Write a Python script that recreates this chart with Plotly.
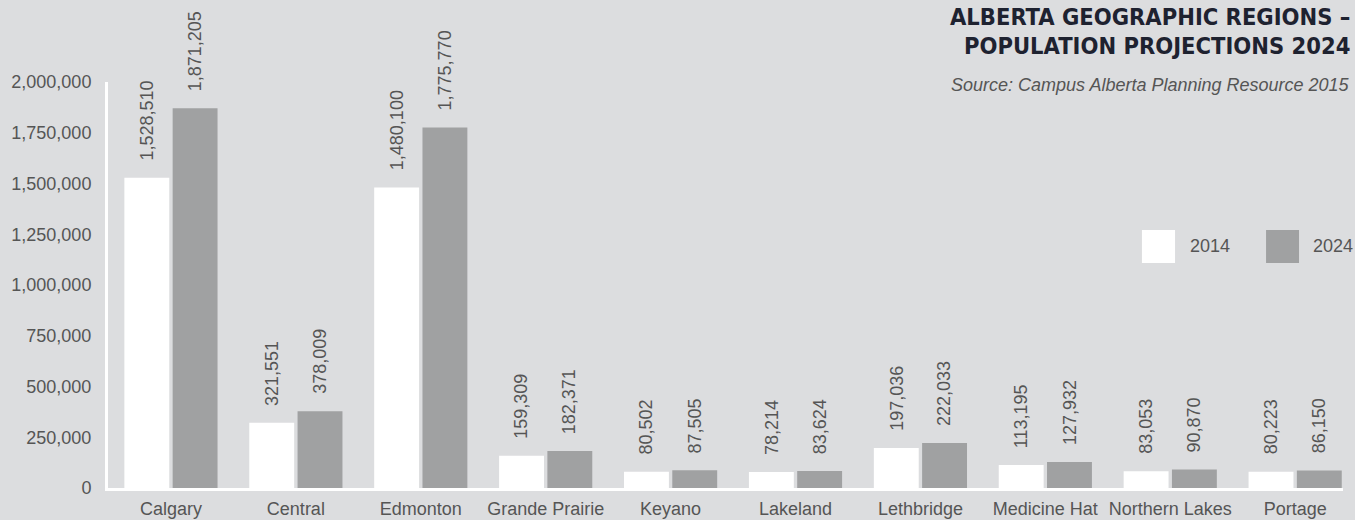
import plotly.graph_objects as go

regions = ["Calgary", "Central", "Edmonton", "Grande Prairie", "Keyano",
           "Lakeland", "Lethbridge", "Medicine Hat", "Northern Lakes", "Portage"]
pop_2014 = [1528510, 321551, 1480100, 159309, 80502, 78214, 197036, 113195, 83053, 80223]
pop_2024 = [1871205, 378009, 1775770, 182371, 87505, 83624, 222033, 127932, 90870, 86150]
y_ticks = [0, 250000, 500000, 750000, 1000000, 1250000, 1500000, 1750000, 2000000]

BG = "#dcdddf"
WHITE = "#ffffff"
GRAY = "#a0a1a2"
TXT = "#555555"
FONT = "Liberation Sans, Arial, sans-serif"
BARGAP = 0.227

fig = go.Figure()
fig.add_trace(go.Bar(x=regions, y=pop_2014, name="2014", marker_color=WHITE,
                     marker_line_width=0, showlegend=False))
fig.add_trace(go.Bar(x=regions, y=pop_2024, name="2024", marker_color=GRAY,
                     marker_line_width=0, showlegend=False))

off = (1 - BARGAP) / 4
ann = []
for i, (a, b) in enumerate(zip(pop_2014, pop_2024)):
    for xv, v in ((i - off, a), (i + off, b)):
        ann.append(dict(x=xv, y=v, xref="x", yref="y", text=f"{v:,}", textangle=-90,
                        showarrow=False, xanchor="center", yanchor="bottom", yshift=15,
                        font=dict(family=FONT, size=18, color=TXT)))

TITLE_FONT = "DejaVu Sans Condensed, Liberation Sans Narrow, Roboto, sans-serif"
ann.append(dict(text="<b>ALBERTA GEOGRAPHIC REGIONS –</b>", xref="paper", yref="paper",
                x=1.0073, y=1.160, xanchor="right", yanchor="middle", showarrow=False,
                font=dict(family=TITLE_FONT, size=23.5, color="#1e2230")))
ann.append(dict(text="<b>POPULATION PROJECTIONS 2024</b>", xref="paper", yref="paper",
                x=1.0073, y=1.0887, xanchor="right", yanchor="middle", showarrow=False,
                font=dict(family=TITLE_FONT, size=23.5, color="#1e2230")))
ann.append(dict(text="<i>Source: Campus Alberta Planning Resource 2015</i>", xref="paper", yref="paper",
                x=1.0073, y=0.9926, xanchor="right", yanchor="middle", showarrow=False,
                font=dict(family=FONT, size=18, color=TXT)))
ann.append(dict(text="2014", xref="paper", yref="paper", x=0.8745, y=0.596,
                xanchor="left", yanchor="middle", showarrow=False,
                font=dict(family=FONT, size=18, color=TXT)))
ann.append(dict(text="2024", xref="paper", yref="paper", x=0.9741, y=0.596,
                xanchor="left", yanchor="middle", showarrow=False,
                font=dict(family=FONT, size=18, color=TXT)))

shapes = [
    dict(type="rect", xref="paper", yref="paper", x0=0.8372, x1=0.864, y0=0.554, y1=0.6355,
         fillcolor=WHITE, line_width=0),
    dict(type="rect", xref="paper", yref="paper", x0=0.9377, x1=0.9644, y0=0.554, y1=0.6355,
         fillcolor=GRAY, line_width=0),
]

fig.update_layout(
    width=1355, height=520,
    margin=dict(l=108, r=12, t=82, b=32, autoexpand=False),
    paper_bgcolor=BG, plot_bgcolor=BG,
    barmode="group", bargap=BARGAP, bargroupgap=0.07,
    annotations=ann, shapes=shapes,
    showlegend=False,
    font=dict(family=FONT, size=18, color=TXT),
)
fig.update_xaxes(range=[-0.504, 9.383], showline=True, linecolor=WHITE, linewidth=3,
                 showgrid=False, zeroline=False, ticks="", ticklabelstandoff=2,
                 automargin=False, tickfont=dict(family=FONT, size=18, color=TXT))
fig.update_yaxes(range=[0, 2000000], tickvals=y_ticks, tickformat=",", showline=True,
                 linecolor=WHITE, linewidth=3, showgrid=False, zeroline=False, ticks="",
                 automargin=False, ticklabelstandoff=10,
                 tickfont=dict(family=FONT, size=18, color=TXT))
fig.update_traces(cliponaxis=False)

fig.write_html("out.html", config={"displayModeBar": False},
               post_script="document.body.style.margin='0';document.body.style.overflow='hidden';")
